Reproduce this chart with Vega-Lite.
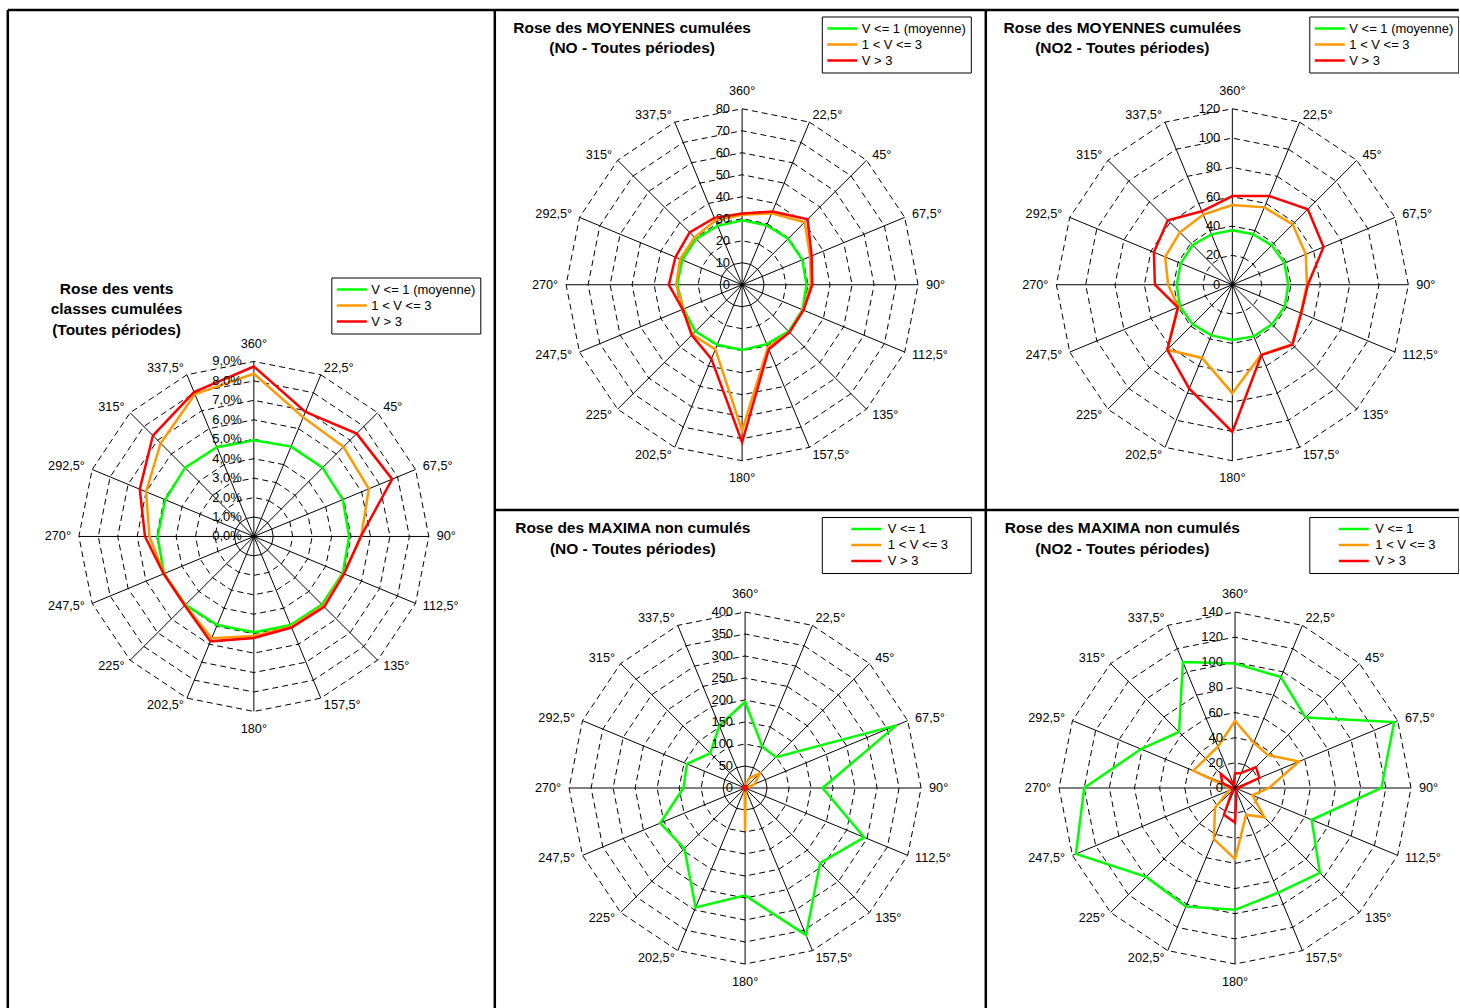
{
"$schema": "https://vega.github.io/schema/vega-lite/v6.json",
"padding": {"left": 7.3, "top": 9.5, "right": 0, "bottom": 0},
"spacing": 0,
"resolve": {"scale": {"x": "independent", "y": "independent", "color": "independent"}, "legend": {"color": "independent"}},
"config": {
  "view": {"stroke": null},
  "font": "Liberation Sans",
  "axis": {"labels": false, "ticks": false, "grid": false, "domainColor": "black", "domainWidth": 2.5},
  "legend": {"orient": "none", "symbolType": "stroke", "symbolSize": 900, "symbolStrokeWidth": 2.5, "clipHeight": 16, "rowPadding": 0, "padding": 4, "strokeColor": "black", "fillColor": "white", "labelFontSize": 13, "labelFont": "Liberation Sans", "labelColor": "black", "labelOffset": 3, "labelLimit": 250},
  "title": {"anchor": "middle", "frame": "group", "baseline": "top", "offset": 0, "fontSize": 15.5, "fontWeight": "bold", "lineHeight": 20.5, "color": "black", "orient": "top", "font": "Liberation Sans"},
  "text": {"color": "black", "font": "Liberation Sans"}
},
"datasets": {
  "dirs": [
    {"d": 22.5, "t": "22,5°"}, {"d": 45, "t": "45°"}, {"d": 67.5, "t": "67,5°"}, {"d": 90, "t": "90°"},
    {"d": 112.5, "t": "112,5°"}, {"d": 135, "t": "135°"}, {"d": 157.5, "t": "157,5°"}, {"d": 180, "t": "180°"},
    {"d": 202.5, "t": "202,5°"}, {"d": 225, "t": "225°"}, {"d": 247.5, "t": "247,5°"}, {"d": 270, "t": "270°"},
    {"d": 292.5, "t": "292,5°"}, {"d": 315, "t": "315°"}, {"d": 337.5, "t": "337,5°"}, {"d": 360, "t": "360°"}
  ],
  "rings": [
    {"p": "p1", "c0": [1], "lv": [2, 3, 4, 5, 6, 7, 8, 9], "d": [22.5, 45, 67.5, 90, 112.5, 135, 157.5, 180, 202.5, 225, 247.5, 270, 292.5, 315, 337.5, 360]},
    {"p": "p2", "c0": [10], "lv": [20, 30, 40, 50, 60, 70, 80], "d": [22.5, 45, 67.5, 90, 112.5, 135, 157.5, 180, 202.5, 225, 247.5, 270, 292.5, 315, 337.5, 360]},
    {"p": "p3", "c0": [], "lv": [20, 40, 60, 80, 100, 120], "d": [22.5, 45, 67.5, 90, 112.5, 135, 157.5, 180, 202.5, 225, 247.5, 270, 292.5, 315, 337.5, 360]},
    {"p": "p4", "c0": [50], "lv": [100, 150, 200, 250, 300, 350, 400], "d": [22.5, 45, 67.5, 90, 112.5, 135, 157.5, 180, 202.5, 225, 247.5, 270, 292.5, 315, 337.5, 360]},
    {"p": "p5", "c0": [], "lv": [20, 40, 60, 80, 100, 120, 140], "d": [22.5, 45, 67.5, 90, 112.5, 135, 157.5, 180, 202.5, 225, 247.5, 270, 292.5, 315, 337.5, 360]}
  ],
  "labs": [
    {"p": "p1", "lv": [0, 1, 2, 3, 4, 5, 6, 7, 8, 9], "t": ["0,0%", "1,0%", "2,0%", "3,0%", "4,0%", "5,0%", "6,0%", "7,0%", "8,0%", "9,0%"]},
    {"p": "p2", "lv": [0, 10, 20, 30, 40, 50, 60, 70, 80], "t": ["0", "10", "20", "30", "40", "50", "60", "70", "80"]},
    {"p": "p3", "lv": [0, 20, 40, 60, 80, 100, 120], "t": ["0", "20", "40", "60", "80", "100", "120"]},
    {"p": "p4", "lv": [0, 50, 100, 150, 200, 250, 300, 350, 400], "t": ["0", "50", "100", "150", "200", "250", "300", "350", "400"]},
    {"p": "p5", "lv": [0, 20, 40, 60, 80, 100, 120, 140], "t": ["0", "20", "40", "60", "80", "100", "120", "140"]}
  ],
  "pts": [
    {"p":"p1","s":"V <= 1 (moyenne)","d":22.5,"v":5.0},{"p":"p1","s":"V <= 1 (moyenne)","d":45,"v":5.0},{"p":"p1","s":"V <= 1 (moyenne)","d":67.5,"v":4.95},{"p":"p1","s":"V <= 1 (moyenne)","d":90,"v":4.9},
    {"p":"p1","s":"V <= 1 (moyenne)","d":112.5,"v":4.95},{"p":"p1","s":"V <= 1 (moyenne)","d":135,"v":4.95},{"p":"p1","s":"V <= 1 (moyenne)","d":157.5,"v":4.93},{"p":"p1","s":"V <= 1 (moyenne)","d":180,"v":4.93},
    {"p":"p1","s":"V <= 1 (moyenne)","d":202.5,"v":4.93},{"p":"p1","s":"V <= 1 (moyenne)","d":225,"v":4.97},{"p":"p1","s":"V <= 1 (moyenne)","d":247.5,"v":5.0},{"p":"p1","s":"V <= 1 (moyenne)","d":270,"v":4.95},
    {"p":"p1","s":"V <= 1 (moyenne)","d":292.5,"v":4.93},{"p":"p1","s":"V <= 1 (moyenne)","d":315,"v":5.0},{"p":"p1","s":"V <= 1 (moyenne)","d":337.5,"v":4.97},{"p":"p1","s":"V <= 1 (moyenne)","d":360,"v":4.95},
    {"p":"p1","s":"1 < V <= 3","d":22.5,"v":6.63},{"p":"p1","s":"1 < V <= 3","d":45,"v":6.52},{"p":"p1","s":"1 < V <= 3","d":67.5,"v":6.4},{"p":"p1","s":"1 < V <= 3","d":90,"v":5.52},
    {"p":"p1","s":"1 < V <= 3","d":112.5,"v":5.0},{"p":"p1","s":"1 < V <= 3","d":135,"v":5.05},{"p":"p1","s":"1 < V <= 3","d":157.5,"v":5.02},{"p":"p1","s":"1 < V <= 3","d":180,"v":5.12},
    {"p":"p1","s":"1 < V <= 3","d":202.5,"v":5.67},{"p":"p1","s":"1 < V <= 3","d":225,"v":5.0},{"p":"p1","s":"1 < V <= 3","d":247.5,"v":5.0},{"p":"p1","s":"1 < V <= 3","d":270,"v":5.37},
    {"p":"p1","s":"1 < V <= 3","d":292.5,"v":6.0},{"p":"p1","s":"1 < V <= 3","d":315,"v":6.78},{"p":"p1","s":"1 < V <= 3","d":337.5,"v":7.92},{"p":"p1","s":"1 < V <= 3","d":360,"v":8.37},
    {"p":"p1","s":"V > 3","d":22.5,"v":6.93},{"p":"p1","s":"V > 3","d":45,"v":7.48},{"p":"p1","s":"V > 3","d":67.5,"v":7.7},{"p":"p1","s":"V > 3","d":90,"v":5.5},
    {"p":"p1","s":"V > 3","d":112.5,"v":5.02},{"p":"p1","s":"V > 3","d":135,"v":5.12},{"p":"p1","s":"V > 3","d":157.5,"v":5.07},{"p":"p1","s":"V > 3","d":180,"v":5.22},
    {"p":"p1","s":"V > 3","d":202.5,"v":5.84},{"p":"p1","s":"V > 3","d":225,"v":5.02},{"p":"p1","s":"V > 3","d":247.5,"v":5.02},{"p":"p1","s":"V > 3","d":270,"v":5.6},
    {"p":"p1","s":"V > 3","d":292.5,"v":6.35},{"p":"p1","s":"V > 3","d":315,"v":7.34},{"p":"p1","s":"V > 3","d":337.5,"v":8.04},{"p":"p1","s":"V > 3","d":360,"v":8.74},

    {"p":"p2","s":"V <= 1 (moyenne)","d":22.5,"v":29.2},{"p":"p2","s":"V <= 1 (moyenne)","d":45,"v":29.6},{"p":"p2","s":"V <= 1 (moyenne)","d":67.5,"v":29.6},{"p":"p2","s":"V <= 1 (moyenne)","d":90,"v":29.3},
    {"p":"p2","s":"V <= 1 (moyenne)","d":112.5,"v":29.7},{"p":"p2","s":"V <= 1 (moyenne)","d":135,"v":30},{"p":"p2","s":"V <= 1 (moyenne)","d":157.5,"v":29.2},{"p":"p2","s":"V <= 1 (moyenne)","d":180,"v":29.6},
    {"p":"p2","s":"V <= 1 (moyenne)","d":202.5,"v":29.5},{"p":"p2","s":"V <= 1 (moyenne)","d":225,"v":30},{"p":"p2","s":"V <= 1 (moyenne)","d":247.5,"v":28.8},{"p":"p2","s":"V <= 1 (moyenne)","d":270,"v":29.5},
    {"p":"p2","s":"V <= 1 (moyenne)","d":292.5,"v":29.4},{"p":"p2","s":"V <= 1 (moyenne)","d":315,"v":29.5},{"p":"p2","s":"V <= 1 (moyenne)","d":337.5,"v":29},{"p":"p2","s":"V <= 1 (moyenne)","d":360,"v":29.3},
    {"p":"p2","s":"1 < V <= 3","d":22.5,"v":35.1},{"p":"p2","s":"1 < V <= 3","d":45,"v":40.2},{"p":"p2","s":"1 < V <= 3","d":67.5,"v":33.5},{"p":"p2","s":"1 < V <= 3","d":90,"v":31.2},
    {"p":"p2","s":"1 < V <= 3","d":112.5,"v":30},{"p":"p2","s":"1 < V <= 3","d":135,"v":30.5},{"p":"p2","s":"1 < V <= 3","d":157.5,"v":30.7},{"p":"p2","s":"1 < V <= 3","d":180,"v":66.3},
    {"p":"p2","s":"1 < V <= 3","d":202.5,"v":31.8},{"p":"p2","s":"1 < V <= 3","d":225,"v":32},{"p":"p2","s":"1 < V <= 3","d":247.5,"v":28.9},{"p":"p2","s":"1 < V <= 3","d":270,"v":30},
    {"p":"p2","s":"1 < V <= 3","d":292.5,"v":30.5},{"p":"p2","s":"1 < V <= 3","d":315,"v":30.5},{"p":"p2","s":"1 < V <= 3","d":337.5,"v":31.6},{"p":"p2","s":"1 < V <= 3","d":360,"v":31.8},
    {"p":"p2","s":"V > 3","d":22.5,"v":36},{"p":"p2","s":"V > 3","d":45,"v":42.1},{"p":"p2","s":"V > 3","d":67.5,"v":34.2},{"p":"p2","s":"V > 3","d":90,"v":31.9},
    {"p":"p2","s":"V > 3","d":112.5,"v":30.2},{"p":"p2","s":"V > 3","d":135,"v":30.5},{"p":"p2","s":"V > 3","d":157.5,"v":31.7},{"p":"p2","s":"V > 3","d":180,"v":71.6},
    {"p":"p2","s":"V > 3","d":202.5,"v":36.5},{"p":"p2","s":"V > 3","d":225,"v":32.4},{"p":"p2","s":"V > 3","d":247.5,"v":29.2},{"p":"p2","s":"V > 3","d":270,"v":33.3},
    {"p":"p2","s":"V > 3","d":292.5,"v":32.8},{"p":"p2","s":"V > 3","d":315,"v":33.7},{"p":"p2","s":"V > 3","d":337.5,"v":32.9},{"p":"p2","s":"V > 3","d":360,"v":32.4},

    {"p":"p3","s":"V <= 1 (moyenne)","d":22.5,"v":37.3},{"p":"p3","s":"V <= 1 (moyenne)","d":45,"v":38},{"p":"p3","s":"V <= 1 (moyenne)","d":67.5,"v":38.5},{"p":"p3","s":"V <= 1 (moyenne)","d":90,"v":38.1},
    {"p":"p3","s":"V <= 1 (moyenne)","d":112.5,"v":38.7},{"p":"p3","s":"V <= 1 (moyenne)","d":135,"v":38.2},{"p":"p3","s":"V <= 1 (moyenne)","d":157.5,"v":38.1},{"p":"p3","s":"V <= 1 (moyenne)","d":180,"v":37.6},
    {"p":"p3","s":"V <= 1 (moyenne)","d":202.5,"v":37.4},{"p":"p3","s":"V <= 1 (moyenne)","d":225,"v":38.2},{"p":"p3","s":"V <= 1 (moyenne)","d":247.5,"v":38.6},{"p":"p3","s":"V <= 1 (moyenne)","d":270,"v":37.9},
    {"p":"p3","s":"V <= 1 (moyenne)","d":292.5,"v":38.1},{"p":"p3","s":"V <= 1 (moyenne)","d":315,"v":38.3},{"p":"p3","s":"V <= 1 (moyenne)","d":337.5,"v":37.2},{"p":"p3","s":"V <= 1 (moyenne)","d":360,"v":37.2},
    {"p":"p3","s":"1 < V <= 3","d":22.5,"v":57.1},{"p":"p3","s":"1 < V <= 3","d":45,"v":58.2},{"p":"p3","s":"1 < V <= 3","d":67.5,"v":54.2},{"p":"p3","s":"1 < V <= 3","d":90,"v":50.8},
    {"p":"p3","s":"1 < V <= 3","d":112.5,"v":50.5},{"p":"p3","s":"1 < V <= 3","d":135,"v":57.5},{"p":"p3","s":"1 < V <= 3","d":157.5,"v":51.5},{"p":"p3","s":"1 < V <= 3","d":180,"v":73.9},
    {"p":"p3","s":"1 < V <= 3","d":202.5,"v":54},{"p":"p3","s":"1 < V <= 3","d":225,"v":62.7},{"p":"p3","s":"1 < V <= 3","d":247.5,"v":39.8},{"p":"p3","s":"1 < V <= 3","d":270,"v":43.8},
    {"p":"p3","s":"1 < V <= 3","d":292.5,"v":49.6},{"p":"p3","s":"1 < V <= 3","d":315,"v":50.5},{"p":"p3","s":"1 < V <= 3","d":337.5,"v":51.8},{"p":"p3","s":"1 < V <= 3","d":360,"v":54.4},
    {"p":"p3","s":"V > 3","d":22.5,"v":65.5},{"p":"p3","s":"V > 3","d":45,"v":72.8},{"p":"p3","s":"V > 3","d":67.5,"v":67.3},{"p":"p3","s":"V > 3","d":90,"v":51.5},
    {"p":"p3","s":"V > 3","d":112.5,"v":50.8},{"p":"p3","s":"V > 3","d":135,"v":57.9},{"p":"p3","s":"V > 3","d":157.5,"v":51.8},{"p":"p3","s":"V > 3","d":180,"v":100.4},
    {"p":"p3","s":"V > 3","d":202.5,"v":76.7},{"p":"p3","s":"V > 3","d":225,"v":62.7},{"p":"p3","s":"V > 3","d":247.5,"v":40.2},{"p":"p3","s":"V > 3","d":270,"v":52.8},
    {"p":"p3","s":"V > 3","d":292.5,"v":57.9},{"p":"p3","s":"V > 3","d":315,"v":62.2},{"p":"p3","s":"V > 3","d":337.5,"v":54.2},{"p":"p3","s":"V > 3","d":360,"v":60.5},

    {"p":"p4","s":"V <= 1","d":22.5,"v":102},{"p":"p4","s":"V <= 1","d":45,"v":99},{"p":"p4","s":"V <= 1","d":67.5,"v":372},{"p":"p4","s":"V <= 1","d":90,"v":176},
    {"p":"p4","s":"V <= 1","d":112.5,"v":293},{"p":"p4","s":"V <= 1","d":135,"v":241},{"p":"p4","s":"V <= 1","d":157.5,"v":362},{"p":"p4","s":"V <= 1","d":180,"v":244},
    {"p":"p4","s":"V <= 1","d":202.5,"v":294},{"p":"p4","s":"V <= 1","d":225,"v":195},{"p":"p4","s":"V <= 1","d":247.5,"v":209},{"p":"p4","s":"V <= 1","d":270,"v":140},
    {"p":"p4","s":"V <= 1","d":292.5,"v":143},{"p":"p4","s":"V <= 1","d":315,"v":112},{"p":"p4","s":"V <= 1","d":337.5,"v":153},{"p":"p4","s":"V <= 1","d":360,"v":196},
    {"p":"p4","s":"1 < V <= 3","d":22.5,"v":24},{"p":"p4","s":"1 < V <= 3","d":45,"v":47},{"p":"p4","s":"1 < V <= 3","d":67.5,"v":23.5},{"p":"p4","s":"1 < V <= 3","d":90,"v":3},
    {"p":"p4","s":"1 < V <= 3","d":112.5,"v":2},{"p":"p4","s":"1 < V <= 3","d":135,"v":2},{"p":"p4","s":"1 < V <= 3","d":157.5,"v":3},{"p":"p4","s":"1 < V <= 3","d":180,"v":97.5},
    {"p":"p4","s":"1 < V <= 3","d":202.5,"v":3},{"p":"p4","s":"1 < V <= 3","d":225,"v":2},{"p":"p4","s":"1 < V <= 3","d":247.5,"v":2},{"p":"p4","s":"1 < V <= 3","d":270,"v":2},
    {"p":"p4","s":"1 < V <= 3","d":292.5,"v":2},{"p":"p4","s":"1 < V <= 3","d":315,"v":2},{"p":"p4","s":"1 < V <= 3","d":337.5,"v":2},{"p":"p4","s":"1 < V <= 3","d":360,"v":5},
    {"p":"p4","s":"V > 3","d":22.5,"v":4},{"p":"p4","s":"V > 3","d":45,"v":5},{"p":"p4","s":"V > 3","d":67.5,"v":4},{"p":"p4","s":"V > 3","d":90,"v":4},
    {"p":"p4","s":"V > 3","d":112.5,"v":3},{"p":"p4","s":"V > 3","d":135,"v":3},{"p":"p4","s":"V > 3","d":157.5,"v":3},{"p":"p4","s":"V > 3","d":180,"v":5},
    {"p":"p4","s":"V > 3","d":202.5,"v":3},{"p":"p4","s":"V > 3","d":225,"v":3},{"p":"p4","s":"V > 3","d":247.5,"v":3},{"p":"p4","s":"V > 3","d":270,"v":4},
    {"p":"p4","s":"V > 3","d":292.5,"v":4},{"p":"p4","s":"V > 3","d":315,"v":4},{"p":"p4","s":"V > 3","d":337.5,"v":4},{"p":"p4","s":"V > 3","d":360,"v":5},

    {"p":"p5","s":"V <= 1","d":22.5,"v":95.5},{"p":"p5","s":"V <= 1","d":45,"v":79.3},{"p":"p5","s":"V <= 1","d":67.5,"v":137},{"p":"p5","s":"V <= 1","d":90,"v":116.4},
    {"p":"p5","s":"V <= 1","d":112.5,"v":66},{"p":"p5","s":"V <= 1","d":135,"v":95.4},{"p":"p5","s":"V <= 1","d":157.5,"v":90},{"p":"p5","s":"V <= 1","d":180,"v":96.9},
    {"p":"p5","s":"V <= 1","d":202.5,"v":102},{"p":"p5","s":"V <= 1","d":225,"v":100},{"p":"p5","s":"V <= 1","d":247.5,"v":137},{"p":"p5","s":"V <= 1","d":270,"v":120},
    {"p":"p5","s":"V <= 1","d":292.5,"v":81},{"p":"p5","s":"V <= 1","d":315,"v":63},{"p":"p5","s":"V <= 1","d":337.5,"v":108.4},{"p":"p5","s":"V <= 1","d":360,"v":99},
    {"p":"p5","s":"1 < V <= 3","d":22.5,"v":39},{"p":"p5","s":"1 < V <= 3","d":45,"v":37},{"p":"p5","s":"1 < V <= 3","d":67.5,"v":55},{"p":"p5","s":"1 < V <= 3","d":90,"v":27},
    {"p":"p5","s":"1 < V <= 3","d":112.5,"v":15},{"p":"p5","s":"1 < V <= 3","d":135,"v":33},{"p":"p5","s":"1 < V <= 3","d":157.5,"v":23},{"p":"p5","s":"1 < V <= 3","d":180,"v":56.6},
    {"p":"p5","s":"1 < V <= 3","d":202.5,"v":44},{"p":"p5","s":"1 < V <= 3","d":225,"v":22.6},{"p":"p5","s":"1 < V <= 3","d":247.5,"v":5},{"p":"p5","s":"1 < V <= 3","d":270,"v":4},
    {"p":"p5","s":"1 < V <= 3","d":292.5,"v":36},{"p":"p5","s":"1 < V <= 3","d":315,"v":33},{"p":"p5","s":"1 < V <= 3","d":337.5,"v":35.5},{"p":"p5","s":"1 < V <= 3","d":360,"v":53.5},
    {"p":"p5","s":"V > 3","d":22.5,"v":13},{"p":"p5","s":"V > 3","d":45,"v":23.5},{"p":"p5","s":"V > 3","d":67.5,"v":21},{"p":"p5","s":"V > 3","d":90,"v":2},
    {"p":"p5","s":"V > 3","d":112.5,"v":2},{"p":"p5","s":"V > 3","d":135,"v":2},{"p":"p5","s":"V > 3","d":157.5,"v":3},{"p":"p5","s":"V > 3","d":180,"v":27.5},
    {"p":"p5","s":"V > 3","d":202.5,"v":23},{"p":"p5","s":"V > 3","d":225,"v":3},{"p":"p5","s":"V > 3","d":247.5,"v":2},{"p":"p5","s":"V > 3","d":270,"v":3},
    {"p":"p5","s":"V > 3","d":292.5,"v":11},{"p":"p5","s":"V > 3","d":315,"v":16},{"p":"p5","s":"V > 3","d":337.5,"v":3},{"p":"p5","s":"V > 3","d":360,"v":11.6}
  ]
},
"hconcat": [
  {
    "width": 487, "height": 999,
    "title": {"text": ["Rose des vents", "classes cumulées", "(Toutes périodes)"], "dx": -134.25, "dy": 333},
    "encoding": {
      "x": {"field": "x", "type": "quantitative", "title": null, "scale": {"domain": [-12.680, 12.366], "nice": false, "zero": false}, "axis": {"orient": "top"}},
      "y": {"field": "y", "type": "quantitative", "title": null, "scale": {"domain": [-24.277, 27.101], "nice": false, "zero": false}, "axis": {"orient": "left"}}
    },
    "layer": [
      {"data": {"name": "rings"}, "transform": [{"filter": "datum.p=='p1'"}, {"flatten": ["lv"]}, {"flatten": ["d"]}, {"calculate": "datum.lv*sin(datum.d*PI/180)", "as": "x"}, {"calculate": "datum.lv*cos(datum.d*PI/180)", "as": "y"}],
       "mark": {"type": "line", "interpolate": "linear-closed", "color": "black", "strokeWidth": 1, "strokeDash": [6, 4]},
       "encoding": {"detail": {"field": "lv", "type": "nominal"}, "order": {"field": "d", "type": "quantitative"}}},
      {"data": {"name": "rings"}, "transform": [{"filter": "datum.p=='p1'"}, {"flatten": ["c0"]}, {"flatten": ["d"]}, {"calculate": "datum.c0*sin(datum.d*PI/180)", "as": "x"}, {"calculate": "datum.c0*cos(datum.d*PI/180)", "as": "y"}],
       "mark": {"type": "line", "interpolate": "linear-closed", "color": "black", "strokeWidth": 1},
       "encoding": {"detail": {"field": "c0", "type": "nominal"}, "order": {"field": "d", "type": "quantitative"}}},
      {"data": {"name": "dirs"}, "transform": [{"calculate": "9*sin(datum.d*PI/180)", "as": "x"}, {"calculate": "9*cos(datum.d*PI/180)", "as": "y"}],
       "mark": {"type": "rule", "color": "black", "strokeWidth": 1},
       "encoding": {"x2": {"datum": 0}, "y2": {"datum": 0}}},
      {"data": {"name": "pts"}, "transform": [{"filter": "datum.p=='p1'"}, {"calculate": "datum.v*sin(datum.d*PI/180)", "as": "x"}, {"calculate": "datum.v*cos(datum.d*PI/180)", "as": "y"}],
       "mark": {"type": "line", "interpolate": "linear-closed", "strokeWidth": 2.5},
       "encoding": {
         "color": {"field": "s", "type": "nominal", "scale": {"domain": ["V <= 1 (moyenne)", "1 < V <= 3", "V > 3"], "range": ["#00ff00", "#ff9900", "#ff0000"]},
                   "legend": {"title": null, "legendX": 324, "legendY": 268}},
         "order": {"field": "d", "type": "quantitative"}}},
      {"data": {"name": "labs"}, "transform": [{"filter": "datum.p=='p1'"}, {"flatten": ["lv", "t"]}, {"calculate": "0", "as": "x"}, {"calculate": "datum.lv", "as": "y"}],
       "mark": {"type": "text", "align": "right", "baseline": "middle", "dx": -12, "fontSize": 13},
       "encoding": {"text": {"field": "t", "type": "nominal"}}},
      {"data": {"name": "dirs"}, "transform": [{"filter": "datum.d<180"}, {"calculate": "9*1.045*sin(datum.d*PI/180)", "as": "x"}, {"calculate": "9*1.045*cos(datum.d*PI/180)", "as": "y"}],
       "mark": {"type": "text", "align": "left", "baseline": "middle", "fontSize": 12.7},
       "encoding": {"text": {"field": "t", "type": "nominal"}}},
      {"data": {"name": "dirs"}, "transform": [{"filter": "datum.d>180 && datum.d<360"}, {"calculate": "9*1.045*sin(datum.d*PI/180)", "as": "x"}, {"calculate": "9*1.045*cos(datum.d*PI/180)", "as": "y"}],
       "mark": {"type": "text", "align": "right", "baseline": "middle", "fontSize": 12.7},
       "encoding": {"text": {"field": "t", "type": "nominal"}}},
      {"data": {"name": "dirs"}, "transform": [{"filter": "datum.d==180 || datum.d==360"}, {"calculate": "9*1.1*sin(datum.d*PI/180)", "as": "x"}, {"calculate": "9*1.1*cos(datum.d*PI/180)", "as": "y"}],
       "mark": {"type": "text", "align": "center", "baseline": "middle", "fontSize": 12.7},
       "encoding": {"text": {"field": "t", "type": "nominal"}}}
    ]
  },
  {
    "vconcat": [
      {
        "hconcat": [
          {
            "width": 491, "height": 500,
            "title": {"text": ["Rose des MOYENNES cumulées", "(NO - Toutes périodes)"], "dx": -107.7, "dy": 51},
            "encoding": {
              "x": {"field": "x", "type": "quantitative", "title": null, "scale": {"domain": [-112.64, 110.55], "nice": false, "zero": false}, "axis": {"orient": "top"}},
              "y": {"field": "y", "type": "quantitative", "title": null, "scale": {"domain": [-102.16, 125.11], "nice": false, "zero": false}, "axis": {"orient": "left"}}
            },
            "layer": [
              {"data": {"name": "rings"}, "transform": [{"filter": "datum.p=='p2'"}, {"flatten": ["lv"]}, {"flatten": ["d"]}, {"calculate": "datum.lv*sin(datum.d*PI/180)", "as": "x"}, {"calculate": "datum.lv*cos(datum.d*PI/180)", "as": "y"}],
               "mark": {"type": "line", "interpolate": "linear-closed", "color": "black", "strokeWidth": 1, "strokeDash": [6, 4]},
               "encoding": {"detail": {"field": "lv", "type": "nominal"}, "order": {"field": "d", "type": "quantitative"}}},
              {"data": {"name": "rings"}, "transform": [{"filter": "datum.p=='p2'"}, {"flatten": ["c0"]}, {"flatten": ["d"]}, {"calculate": "datum.c0*sin(datum.d*PI/180)", "as": "x"}, {"calculate": "datum.c0*cos(datum.d*PI/180)", "as": "y"}],
               "mark": {"type": "line", "interpolate": "linear-closed", "color": "black", "strokeWidth": 1},
               "encoding": {"detail": {"field": "c0", "type": "nominal"}, "order": {"field": "d", "type": "quantitative"}}},
              {"data": {"name": "dirs"}, "transform": [{"calculate": "80*sin(datum.d*PI/180)", "as": "x"}, {"calculate": "80*cos(datum.d*PI/180)", "as": "y"}],
               "mark": {"type": "rule", "color": "black", "strokeWidth": 1},
               "encoding": {"x2": {"datum": 0}, "y2": {"datum": 0}}},
              {"data": {"name": "pts"}, "transform": [{"filter": "datum.p=='p2'"}, {"calculate": "datum.v*sin(datum.d*PI/180)", "as": "x"}, {"calculate": "datum.v*cos(datum.d*PI/180)", "as": "y"}],
               "mark": {"type": "line", "interpolate": "linear-closed", "strokeWidth": 2.5},
               "encoding": {
                 "color": {"field": "s", "type": "nominal", "scale": {"domain": ["V <= 1 (moyenne)", "1 < V <= 3", "V > 3"], "range": ["#00ff00", "#ff9900", "#ff0000"]},
                           "legend": {"title": null, "legendX": 327.5, "legendY": 7}},
                 "order": {"field": "d", "type": "quantitative"}}},
              {"data": {"name": "labs"}, "transform": [{"filter": "datum.p=='p2'"}, {"flatten": ["lv", "t"]}, {"calculate": "0", "as": "x"}, {"calculate": "datum.lv", "as": "y"}],
               "mark": {"type": "text", "align": "right", "baseline": "middle", "dx": -12, "fontSize": 13},
               "encoding": {"text": {"field": "t", "type": "nominal"}}},
              {"data": {"name": "dirs"}, "transform": [{"filter": "datum.d<180"}, {"calculate": "80*1.045*sin(datum.d*PI/180)", "as": "x"}, {"calculate": "80*1.045*cos(datum.d*PI/180)", "as": "y"}],
               "mark": {"type": "text", "align": "left", "baseline": "middle", "fontSize": 12.7},
               "encoding": {"text": {"field": "t", "type": "nominal"}}},
              {"data": {"name": "dirs"}, "transform": [{"filter": "datum.d>180 && datum.d<360"}, {"calculate": "80*1.045*sin(datum.d*PI/180)", "as": "x"}, {"calculate": "80*1.045*cos(datum.d*PI/180)", "as": "y"}],
               "mark": {"type": "text", "align": "right", "baseline": "middle", "fontSize": 12.7},
               "encoding": {"text": {"field": "t", "type": "nominal"}}},
              {"data": {"name": "dirs"}, "transform": [{"filter": "datum.d==180 || datum.d==360"}, {"calculate": "80*1.1*sin(datum.d*PI/180)", "as": "x"}, {"calculate": "80*1.1*cos(datum.d*PI/180)", "as": "y"}],
               "mark": {"type": "text", "align": "center", "baseline": "middle", "fontSize": 12.7},
               "encoding": {"text": {"field": "t", "type": "nominal"}}}
            ]
          },
          {
            "width": 473, "height": 500,
            "title": {"text": ["Rose des MOYENNES cumulées", "(NO2 - Toutes périodes)"], "dx": -99.5, "dy": 51},
            "encoding": {
              "x": {"field": "x", "type": "quantitative", "title": null, "scale": {"domain": [-168.44, 154.06], "nice": false, "zero": false}, "axis": {"orient": "top"}},
              "y": {"field": "y", "type": "quantitative", "title": null, "scale": {"domain": [-153.24, 187.67], "nice": false, "zero": false}, "axis": {"orient": "left"}}
            },
            "layer": [
              {"data": {"name": "rings"}, "transform": [{"filter": "datum.p=='p3'"}, {"flatten": ["lv"]}, {"flatten": ["d"]}, {"calculate": "datum.lv*sin(datum.d*PI/180)", "as": "x"}, {"calculate": "datum.lv*cos(datum.d*PI/180)", "as": "y"}],
               "mark": {"type": "line", "interpolate": "linear-closed", "color": "black", "strokeWidth": 1, "strokeDash": [6, 4]},
               "encoding": {"detail": {"field": "lv", "type": "nominal"}, "order": {"field": "d", "type": "quantitative"}}},
              {"data": {"name": "dirs"}, "transform": [{"calculate": "120*sin(datum.d*PI/180)", "as": "x"}, {"calculate": "120*cos(datum.d*PI/180)", "as": "y"}],
               "mark": {"type": "rule", "color": "black", "strokeWidth": 1},
               "encoding": {"x2": {"datum": 0}, "y2": {"datum": 0}}},
              {"data": {"name": "pts"}, "transform": [{"filter": "datum.p=='p3'"}, {"calculate": "datum.v*sin(datum.d*PI/180)", "as": "x"}, {"calculate": "datum.v*cos(datum.d*PI/180)", "as": "y"}],
               "mark": {"type": "line", "interpolate": "linear-closed", "strokeWidth": 2.5},
               "encoding": {
                 "color": {"field": "s", "type": "nominal", "scale": {"domain": ["V <= 1 (moyenne)", "1 < V <= 3", "V > 3"], "range": ["#00ff00", "#ff9900", "#ff0000"]},
                           "legend": {"title": null, "legendX": 324, "legendY": 7}},
                 "order": {"field": "d", "type": "quantitative"}}},
              {"data": {"name": "labs"}, "transform": [{"filter": "datum.p=='p3'"}, {"flatten": ["lv", "t"]}, {"calculate": "0", "as": "x"}, {"calculate": "datum.lv", "as": "y"}],
               "mark": {"type": "text", "align": "right", "baseline": "middle", "dx": -12, "fontSize": 13},
               "encoding": {"text": {"field": "t", "type": "nominal"}}},
              {"data": {"name": "dirs"}, "transform": [{"filter": "datum.d<180"}, {"calculate": "120*1.045*sin(datum.d*PI/180)", "as": "x"}, {"calculate": "120*1.045*cos(datum.d*PI/180)", "as": "y"}],
               "mark": {"type": "text", "align": "left", "baseline": "middle", "fontSize": 12.7},
               "encoding": {"text": {"field": "t", "type": "nominal"}}},
              {"data": {"name": "dirs"}, "transform": [{"filter": "datum.d>180 && datum.d<360"}, {"calculate": "120*1.045*sin(datum.d*PI/180)", "as": "x"}, {"calculate": "120*1.045*cos(datum.d*PI/180)", "as": "y"}],
               "mark": {"type": "text", "align": "right", "baseline": "middle", "fontSize": 12.7},
               "encoding": {"text": {"field": "t", "type": "nominal"}}},
              {"data": {"name": "dirs"}, "transform": [{"filter": "datum.d==180 || datum.d==360"}, {"calculate": "120*1.1*sin(datum.d*PI/180)", "as": "x"}, {"calculate": "120*1.1*cos(datum.d*PI/180)", "as": "y"}],
               "mark": {"type": "text", "align": "center", "baseline": "middle", "fontSize": 12.7},
               "encoding": {"text": {"field": "t", "type": "nominal"}}}
            ]
          }
        ],
        "spacing": 0,
        "resolve": {"scale": {"x": "independent", "y": "independent", "color": "independent"}, "legend": {"color": "independent"}}
      },
      {
        "hconcat": [
          {
            "width": 491, "height": 499,
            "title": {"text": ["Rose des MAXIMA non cumulés", "(NO - Toutes périodes)"], "dx": -107, "dy": 51.7},
            "encoding": {
              "x": {"field": "x", "type": "quantitative", "title": null, "scale": {"domain": [-570.0, 545.9], "nice": false, "zero": false}, "axis": {"orient": "top"}},
              "y": {"field": "y", "type": "quantitative", "title": null, "scale": {"domain": [-501.1, 632.95], "nice": false, "zero": false}, "axis": {"orient": "left"}}
            },
            "layer": [
              {"data": {"name": "rings"}, "transform": [{"filter": "datum.p=='p4'"}, {"flatten": ["lv"]}, {"flatten": ["d"]}, {"calculate": "datum.lv*sin(datum.d*PI/180)", "as": "x"}, {"calculate": "datum.lv*cos(datum.d*PI/180)", "as": "y"}],
               "mark": {"type": "line", "interpolate": "linear-closed", "color": "black", "strokeWidth": 1, "strokeDash": [6, 4]},
               "encoding": {"detail": {"field": "lv", "type": "nominal"}, "order": {"field": "d", "type": "quantitative"}}},
              {"data": {"name": "rings"}, "transform": [{"filter": "datum.p=='p4'"}, {"flatten": ["c0"]}, {"flatten": ["d"]}, {"calculate": "datum.c0*sin(datum.d*PI/180)", "as": "x"}, {"calculate": "datum.c0*cos(datum.d*PI/180)", "as": "y"}],
               "mark": {"type": "line", "interpolate": "linear-closed", "color": "black", "strokeWidth": 1},
               "encoding": {"detail": {"field": "c0", "type": "nominal"}, "order": {"field": "d", "type": "quantitative"}}},
              {"data": {"name": "dirs"}, "transform": [{"calculate": "400*sin(datum.d*PI/180)", "as": "x"}, {"calculate": "400*cos(datum.d*PI/180)", "as": "y"}],
               "mark": {"type": "rule", "color": "black", "strokeWidth": 1},
               "encoding": {"x2": {"datum": 0}, "y2": {"datum": 0}}},
              {"data": {"name": "pts"}, "transform": [{"filter": "datum.p=='p4'"}, {"calculate": "datum.v*sin(datum.d*PI/180)", "as": "x"}, {"calculate": "datum.v*cos(datum.d*PI/180)", "as": "y"}],
               "mark": {"type": "line", "interpolate": "linear-closed", "strokeWidth": 2.5},
               "encoding": {
                 "color": {"field": "s", "type": "nominal", "scale": {"domain": ["V <= 1", "1 < V <= 3", "V > 3"], "range": ["#00ff00", "#ff9900", "#ff0000"]},
                           "legend": {"title": null, "legendX": 327.5, "legendY": 7.5, "symbolOffset": 24, "labelOffset": 5, "labelExpr": "datum.label + '\u00a0\u00a0\u00a0\u00a0\u00a0\u200b'"}},
                 "order": {"field": "d", "type": "quantitative"}}},
              {"data": {"name": "labs"}, "transform": [{"filter": "datum.p=='p4'"}, {"flatten": ["lv", "t"]}, {"calculate": "0", "as": "x"}, {"calculate": "datum.lv", "as": "y"}],
               "mark": {"type": "text", "align": "right", "baseline": "middle", "dx": -12, "fontSize": 13},
               "encoding": {"text": {"field": "t", "type": "nominal"}}},
              {"data": {"name": "dirs"}, "transform": [{"filter": "datum.d<180"}, {"calculate": "400*1.045*sin(datum.d*PI/180)", "as": "x"}, {"calculate": "400*1.045*cos(datum.d*PI/180)", "as": "y"}],
               "mark": {"type": "text", "align": "left", "baseline": "middle", "fontSize": 12.7},
               "encoding": {"text": {"field": "t", "type": "nominal"}}},
              {"data": {"name": "dirs"}, "transform": [{"filter": "datum.d>180 && datum.d<360"}, {"calculate": "400*1.045*sin(datum.d*PI/180)", "as": "x"}, {"calculate": "400*1.045*cos(datum.d*PI/180)", "as": "y"}],
               "mark": {"type": "text", "align": "right", "baseline": "middle", "fontSize": 12.7},
               "encoding": {"text": {"field": "t", "type": "nominal"}}},
              {"data": {"name": "dirs"}, "transform": [{"filter": "datum.d==180 || datum.d==360"}, {"calculate": "400*1.1*sin(datum.d*PI/180)", "as": "x"}, {"calculate": "400*1.1*cos(datum.d*PI/180)", "as": "y"}],
               "mark": {"type": "text", "align": "center", "baseline": "middle", "fontSize": 12.7},
               "encoding": {"text": {"field": "t", "type": "nominal"}}}
            ]
          },
          {
            "width": 473, "height": 499,
            "title": {"text": ["Rose des MAXIMA non cumulés", "(NO2 - Toutes périodes)"], "dx": -99.5, "dy": 51.7},
            "encoding": {
              "x": {"field": "x", "type": "quantitative", "title": null, "scale": {"domain": [-198.66, 177.59], "nice": false, "zero": false}, "axis": {"orient": "top"}},
              "y": {"field": "y", "type": "quantitative", "title": null, "scale": {"domain": [-175.40, 221.53], "nice": false, "zero": false}, "axis": {"orient": "left"}}
            },
            "layer": [
              {"data": {"name": "rings"}, "transform": [{"filter": "datum.p=='p5'"}, {"flatten": ["lv"]}, {"flatten": ["d"]}, {"calculate": "datum.lv*sin(datum.d*PI/180)", "as": "x"}, {"calculate": "datum.lv*cos(datum.d*PI/180)", "as": "y"}],
               "mark": {"type": "line", "interpolate": "linear-closed", "color": "black", "strokeWidth": 1, "strokeDash": [6, 4]},
               "encoding": {"detail": {"field": "lv", "type": "nominal"}, "order": {"field": "d", "type": "quantitative"}}},
              {"data": {"name": "dirs"}, "transform": [{"calculate": "140*sin(datum.d*PI/180)", "as": "x"}, {"calculate": "140*cos(datum.d*PI/180)", "as": "y"}],
               "mark": {"type": "rule", "color": "black", "strokeWidth": 1},
               "encoding": {"x2": {"datum": 0}, "y2": {"datum": 0}}},
              {"data": {"name": "pts"}, "transform": [{"filter": "datum.p=='p5'"}, {"calculate": "datum.v*sin(datum.d*PI/180)", "as": "x"}, {"calculate": "datum.v*cos(datum.d*PI/180)", "as": "y"}],
               "mark": {"type": "line", "interpolate": "linear-closed", "strokeWidth": 2.5},
               "encoding": {
                 "color": {"field": "s", "type": "nominal", "scale": {"domain": ["V <= 1", "1 < V <= 3", "V > 3"], "range": ["#00ff00", "#ff9900", "#ff0000"]},
                           "legend": {"title": null, "legendX": 324, "legendY": 7.5, "symbolOffset": 24, "labelOffset": 5, "labelExpr": "datum.label + '\u00a0\u00a0\u00a0\u00a0\u00a0\u200b'"}},
                 "order": {"field": "d", "type": "quantitative"}}},
              {"data": {"name": "labs"}, "transform": [{"filter": "datum.p=='p5'"}, {"flatten": ["lv", "t"]}, {"calculate": "0", "as": "x"}, {"calculate": "datum.lv", "as": "y"}],
               "mark": {"type": "text", "align": "right", "baseline": "middle", "dx": -12, "fontSize": 13},
               "encoding": {"text": {"field": "t", "type": "nominal"}}},
              {"data": {"name": "dirs"}, "transform": [{"filter": "datum.d<180"}, {"calculate": "140*1.045*sin(datum.d*PI/180)", "as": "x"}, {"calculate": "140*1.045*cos(datum.d*PI/180)", "as": "y"}],
               "mark": {"type": "text", "align": "left", "baseline": "middle", "fontSize": 12.7},
               "encoding": {"text": {"field": "t", "type": "nominal"}}},
              {"data": {"name": "dirs"}, "transform": [{"filter": "datum.d>180 && datum.d<360"}, {"calculate": "140*1.045*sin(datum.d*PI/180)", "as": "x"}, {"calculate": "140*1.045*cos(datum.d*PI/180)", "as": "y"}],
               "mark": {"type": "text", "align": "right", "baseline": "middle", "fontSize": 12.7},
               "encoding": {"text": {"field": "t", "type": "nominal"}}},
              {"data": {"name": "dirs"}, "transform": [{"filter": "datum.d==180 || datum.d==360"}, {"calculate": "140*1.1*sin(datum.d*PI/180)", "as": "x"}, {"calculate": "140*1.1*cos(datum.d*PI/180)", "as": "y"}],
               "mark": {"type": "text", "align": "center", "baseline": "middle", "fontSize": 12.7},
               "encoding": {"text": {"field": "t", "type": "nominal"}}}
            ]
          }
        ],
        "spacing": 0,
        "resolve": {"scale": {"x": "independent", "y": "independent", "color": "independent"}, "legend": {"color": "independent"}}
      }
    ],
    "spacing": 0,
    "resolve": {"scale": {"x": "independent", "y": "independent", "color": "independent"}, "legend": {"color": "independent"}}
  }
]
}
